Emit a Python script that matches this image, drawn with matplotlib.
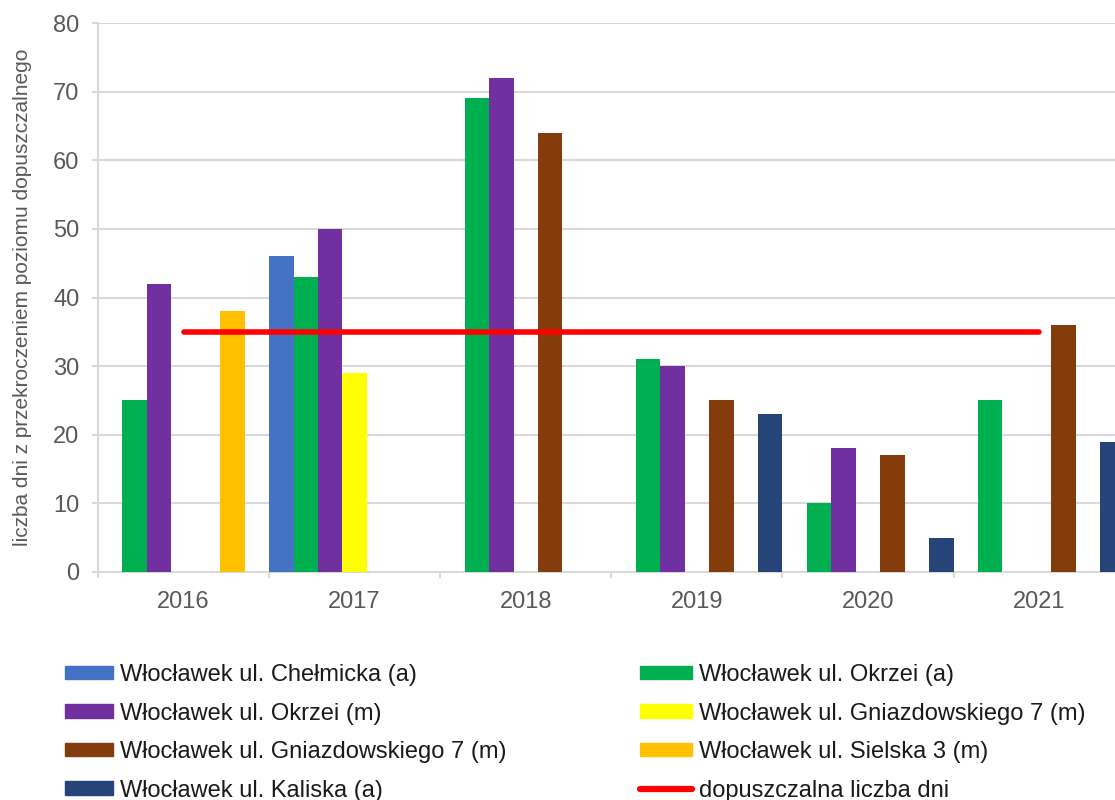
import matplotlib.pyplot as plt
import numpy as np
from matplotlib.patches import Patch
from matplotlib.lines import Line2D

plt.rcParams['font.family'] = ['Liberation Sans', 'DejaVu Sans']

# Data
years = ['2016', '2017', '2018', '2019', '2020', '2021']
series = [
    'Włocławek ul. Chełmicka (a)',
    'Włocławek ul. Okrzei (a)',
    'Włocławek ul. Okrzei (m)',
    'Włocławek ul. Gniazdowskiego 7 (m)',
    'Włocławek ul. Gniazdowskiego 7 (m)',
    'Włocławek ul. Sielska 3 (m)',
    'Włocławek ul. Kaliska (a)',
]
chelmicka_a = [0, 46, 0, 0, 0, 0]
okrzei_a = [25, 43, 69, 31, 10, 25]
okrzei_m = [42, 50, 72, 30, 18, 0]
gniazd_yellow = [0, 29, 0, 0, 0, 0]
gniazd_brown = [0, 0, 64, 25, 17, 36]
sielska_m = [38, 0, 0, 0, 0, 0]
kaliska_a = [0, 0, 0, 23, 5, 19]
limit = [35, 35, 35, 35, 35, 35]
limit_label = 'dopuszczalna liczba dni'

values = [chelmicka_a, okrzei_a, okrzei_m, gniazd_yellow, gniazd_brown, sielska_m, kaliska_a]
colors = ['#4472C4', '#00B050', '#7030A0', '#FFFF00', '#843C0C', '#FFC000', '#264478']

fig = plt.figure(figsize=(11.15, 8), dpi=100)
ax = fig.add_axes([98 / 1115, 1 - 572 / 800, 1 - 98 / 1115, (572 - 23) / 800])

x = np.arange(len(years))
n = len(values)
w = 1 / n
for i, (vals, c) in enumerate(zip(values, colors)):
    ax.bar(x - 0.5 + w * (i + 0.5), vals, width=w, color=c, zorder=3)

ax.plot(x[[0, -1]], [limit[0], limit[-1]], color='#FF0000', lw=4,
        solid_capstyle='round', zorder=4)

# ticks first (set_xticks widens the view), limits after
ax.set_yticks(range(0, 81, 10))
ax.set_xticks(np.arange(-0.5, 5.6, 1))
ax.set_xticklabels([])
ax.set_xticks(x, minor=True)
ax.set_xticklabels(years, minor=True)
ax.set_ylim(0, 80)
ax.set_xlim(-0.5, -0.5 + (1115 - 98) / 171.1)

ax.yaxis.grid(True, color='#d9d9d9', lw=1.5, zorder=0)
ax.set_axisbelow(True)
ax.tick_params(axis='x', which='major', length=4.5, width=1.5, color='#d9d9d9')
ax.tick_params(axis='x', which='minor', length=0, pad=14, labelsize=17, labelcolor='#595959')
ax.tick_params(axis='y', length=4.5, width=1.5, color='#d9d9d9', pad=9,
               labelsize=17, labelcolor='#595959')

for s in ['top', 'right']:
    ax.spines[s].set_visible(False)
for s in ['left', 'bottom']:
    ax.spines[s].set_color('#d9d9d9')
    ax.spines[s].set_linewidth(1.5)

ax.set_ylabel('liczba dni z przekroczeniem poziomu dopuszczalnego',
              fontsize=15, color='#595959', labelpad=15)

# Legend: two columns
h = [Patch(color=c) for c in colors]
h_limit = Line2D([0], [0], color='#FF0000', lw=4.5, solid_capstyle='round')
left_idx = [0, 2, 4, 6]
right_idx = [1, 3, 5]
kw = dict(frameon=False, fontsize=17, handleheight=0.5,
          handletextpad=0.3, labelspacing=0.7, borderpad=0, borderaxespad=0,
          loc='upper left', labelcolor='#1a1a1a')
fig.legend([h[i] for i in left_idx], [series[i] for i in left_idx],
           bbox_to_anchor=(65 / 1115, 1 - 664 / 800), handlelength=2.03, **kw)
fig.legend([h[i] for i in right_idx] + [h_limit],
           [series[i] for i in right_idx] + [limit_label],
           bbox_to_anchor=(640 / 1115, 1 - 664 / 800), handlelength=2.2, **kw)

fig.savefig('out.png', dpi=100)
